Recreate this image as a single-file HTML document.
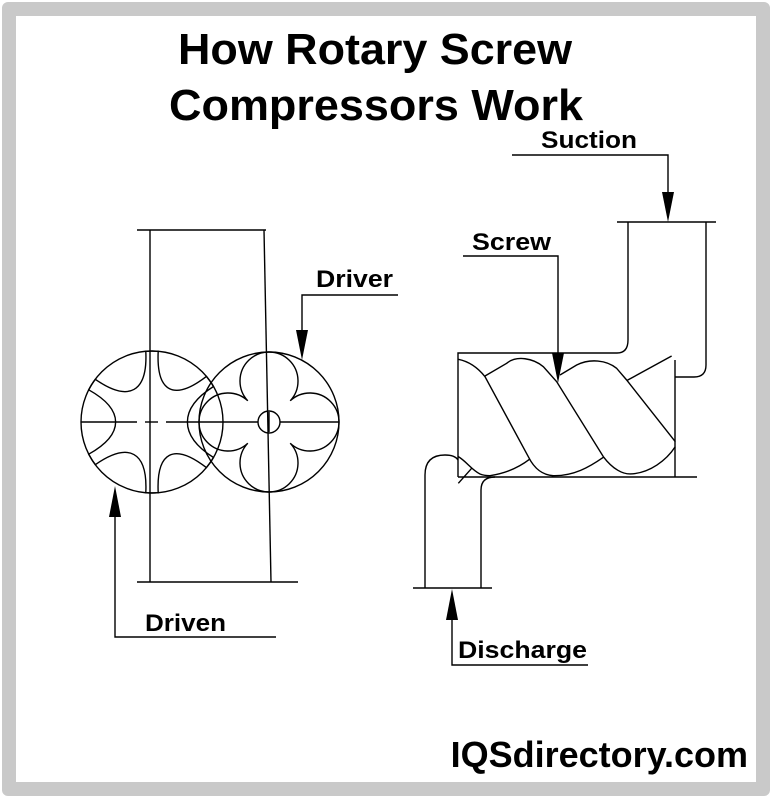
<!DOCTYPE html>
<html><head><style>
html,body{margin:0;padding:0;background:#fff}
body{width:772px;height:798px;position:relative;overflow:hidden}
.frame{position:absolute;left:2px;top:2px;width:740px;height:766px;border:14px solid #c9c9c9;border-radius:6px}
svg{position:absolute;left:0;top:0}
text{font-family:"Liberation Sans",Arial,sans-serif;font-weight:bold;fill:#000}
</style></head><body>
<div class="frame"></div>
<svg width="772" height="798" viewBox="0 0 772 798">
<text x="375" y="64" font-size="44" text-anchor="middle" textLength="394" lengthAdjust="spacingAndGlyphs">How Rotary Screw</text>
<text x="376" y="120" font-size="44" text-anchor="middle" textLength="414" lengthAdjust="spacingAndGlyphs">Compressors Work</text>
<text x="748" y="767" font-size="36" text-anchor="end">IQSdirectory.com</text>

<g fill="none" stroke="#000" stroke-width="1.4">
<line x1="137" y1="230" x2="266" y2="230"/>
<line x1="137" y1="582" x2="298" y2="582"/>
<line x1="150" y1="230" x2="150" y2="582"/>
<line x1="264" y1="230" x2="271" y2="582"/>
<circle cx="152" cy="422" r="71"/>
<circle cx="269" cy="422" r="70"/>
<line x1="81" y1="422" x2="137" y2="422"/>
<line x1="145" y1="422" x2="158" y2="422"/>
<line x1="166" y1="422" x2="258" y2="422"/>
<line x1="280" y1="422" x2="339" y2="422"/>
<circle cx="269" cy="422" r="11"/>
<line x1="269" y1="412" x2="269" y2="432"/>
<path d="M158.2,351.3 C156.2,392.3 173.9,401.5 206.4,376.4 A71,71 0 0 1 213.5,386.5 C178.7,408.4 178.7,435.6 213.5,457.5 A71,71 0 0 1 206.4,467.6 C173.9,442.5 156.2,451.7 158.2,492.7 A71,71 0 0 1 145.8,492.7 C147.8,451.7 129,441.3 95.3,464.7 A71,71 0 0 1 88.7,454.2 C124.6,434.2 124.6,409.8 88.7,389.8 A71,71 0 0 1 95.3,379.3 C129,402.7 147.8,392.3 145.8,351.3 A71,71 0 0 1 158.2,351.3 Z"/>
<path d="M247.8,400.8 A29,29 0 1 1 290.2,400.8 A29,29 0 1 1 290.2,443.2 A29,29 0 1 1 247.8,443.2 A29,29 0 1 1 247.8,400.8 Z"/>
<polyline points="398,295 302,295 302,340"/>
<polyline points="115,505 115,637 276,637"/>

<polyline points="458,477 458,353 617,353"/>
<path d="M617,353 Q628,353 628,340 L628,222"/>
<line x1="617" y1="222" x2="716" y2="222"/>
<path d="M706,222 L706,365 Q706,377 694,377 L675,377"/>
<line x1="675" y1="360" x2="675" y2="477"/>
<line x1="458" y1="477" x2="697" y2="477"/>
<polyline points="512,155 668,155 668,205"/>
<polyline points="463,256 558,256 558,365"/>
<path d="M425,588 L425,475 Q425,455 445,455 Q455,455 458,460"/>
<path d="M481,588 L481,490 Q481,477 495,477"/>
<line x1="413" y1="588" x2="492" y2="588"/>
<polyline points="452,605 452,665 588,665"/>
<g transform="translate(400,330) scale(0.3333)">
<path vector-effect="non-scaling-stroke" d="M175,88 C210,95 235,115 255,140 L385,380 C405,420 430,435 460,437"/>
<path vector-effect="non-scaling-stroke" d="M255,138 L320,100 C350,75 400,85 430,110 L470,155 L610,380 C640,420 670,432 690,432"/>
<path vector-effect="non-scaling-stroke" d="M480,135 L530,105 C570,85 620,90 650,115 L680,150 L826,335"/>
<path vector-effect="non-scaling-stroke" d="M680,152 L815,78"/>
<path vector-effect="non-scaling-stroke" d="M175,380 C200,395 215,420 240,432 C250,436 260,437 270,437 C320,430 360,410 390,387"/>
<path vector-effect="non-scaling-stroke" d="M455,437 C520,440 570,410 610,382"/>
<path vector-effect="non-scaling-stroke" d="M690,432 C750,430 800,390 826,350"/>
<path vector-effect="non-scaling-stroke" d="M175,460 L215,415"/>
</g>
</g>
<g fill="#000">
<polygon points="296,330 308,330 302,360"/>
<polygon points="109,517 121,517 115,486"/>
<polygon points="662,192 674,192 668,222"/>
<polygon points="552,353 564,353 558,383"/>
<polygon points="446,620 458,620 452,589"/>
</g>
<text x="316" y="287" font-size="24" textLength="77" lengthAdjust="spacingAndGlyphs">Driver</text>
<text x="145" y="631" font-size="24" textLength="81" lengthAdjust="spacingAndGlyphs">Driven</text>
<text x="541" y="148" font-size="24" textLength="96" lengthAdjust="spacingAndGlyphs">Suction</text>
<text x="472" y="250" font-size="24" textLength="79" lengthAdjust="spacingAndGlyphs">Screw</text>
<text x="458" y="658" font-size="24" textLength="129" lengthAdjust="spacingAndGlyphs">Discharge</text>
</svg>
</body></html>
